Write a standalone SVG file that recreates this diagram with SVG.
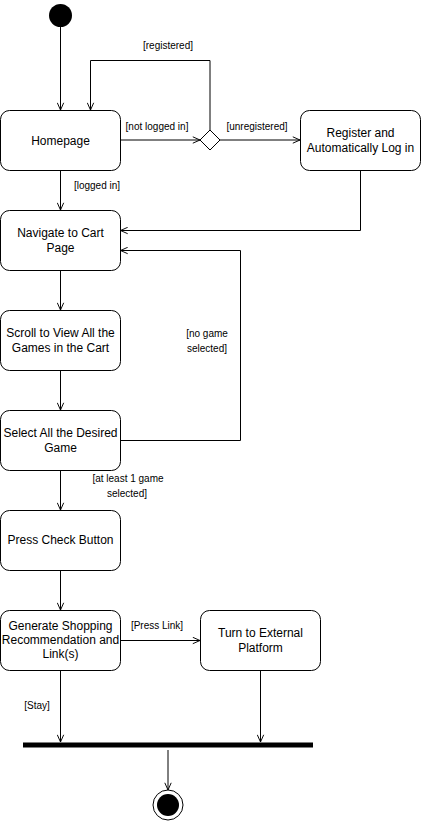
<svg xmlns="http://www.w3.org/2000/svg" width="422" height="821" viewBox="0 0 422 821">
<style>
.node{fill:#fff;stroke:#000;stroke-width:1}
.t{font-family:"Liberation Sans",Arial,sans-serif;font-size:12px;fill:#000;text-anchor:middle}
.l{font-family:"Liberation Sans",Arial,sans-serif;font-size:10px;fill:#000;text-anchor:middle}
.e{fill:none;stroke:#000;stroke-width:1}
</style>
<defs>
<marker id="arr" viewBox="0 0 10 10" refX="10" refY="5" markerWidth="8" markerHeight="8" markerUnits="userSpaceOnUse" orient="auto">
<path d="M1,1 L10,5 L1,9" fill="none" stroke="#000" stroke-width="1.2"/>
</marker>
</defs>
<rect width="422" height="821" fill="#fff"/>
<g id="connectors">
<path class="e" d="M60.5,27 V110" marker-end="url(#arr)"/>
<path class="e" d="M120.5,140 H200" marker-end="url(#arr)"/>
<path class="e" d="M210,130 V60.5 H90.5 V110" marker-end="url(#arr)"/>
<path class="e" d="M220,140 H300" marker-end="url(#arr)"/>
<path class="e" d="M60.5,170 V210" marker-end="url(#arr)"/>
<path class="e" d="M360.5,170 V230.5 H120.5" marker-end="url(#arr)"/>
<path class="e" d="M60.5,270 V310" marker-end="url(#arr)"/>
<path class="e" d="M60.5,370 V410" marker-end="url(#arr)"/>
<path class="e" d="M120.5,440.5 H240.5 V250.5 H120.5" marker-end="url(#arr)"/>
<path class="e" d="M60.5,470 V510" marker-end="url(#arr)"/>
<path class="e" d="M60.5,570 V610" marker-end="url(#arr)"/>
<path class="e" d="M120.5,640.5 H200" marker-end="url(#arr)"/>
<path class="e" d="M60.5,670 V742" marker-end="url(#arr)"/>
<path class="e" d="M260.5,670 V742" marker-end="url(#arr)"/>
<path class="e" d="M168,750 V790" marker-end="url(#arr)"/>
<text class="l" x="168" y="49">[registered]</text>
<text class="l" x="157" y="130">[not logged in]</text>
<text class="l" x="257" y="130">[unregistered]</text>
<text class="l" x="97" y="189">[logged in]</text>
<text class="l" x="207" y="337">[no game</text>
<text class="l" x="207" y="352">selected]</text>
<text class="l" x="128" y="482">[at least 1 game</text>
<text class="l" x="127" y="497">selected]</text>
<text class="l" x="157" y="629">[Press Link]</text>
<text class="l" x="37" y="709">[Stay]</text>
</g>
<g id="start"><circle cx="60.5" cy="15.5" r="11.5" fill="#000"/></g>
<g id="homepage"><rect class="node" x="0.5" y="110.5" width="120" height="60" rx="9"/><text class="t" x="60.5" y="144.5">Homepage</text></g>
<g id="decision"><path class="node" d="M210,130 L220,140 L210,150 L200,140 Z"/></g>
<g id="register"><rect class="node" x="300.5" y="110.5" width="120" height="60" rx="9"/><text class="t" x="360.5" y="137">Register and</text><text class="t" x="360.5" y="152">Automatically Log in</text></g>
<g id="navigate"><rect class="node" x="0.5" y="210.5" width="120" height="60" rx="9"/><text class="t" x="60.5" y="237">Navigate to Cart</text><text class="t" x="60.5" y="252">Page</text></g>
<g id="scroll"><rect class="node" x="0.5" y="310.5" width="120" height="60" rx="9"/><text class="t" x="60.5" y="337">Scroll to View All the</text><text class="t" x="60.5" y="352">Games in the Cart</text></g>
<g id="select"><rect class="node" x="0.5" y="410.5" width="120" height="60" rx="9"/><text class="t" x="60.5" y="437">Select All the Desired</text><text class="t" x="60.5" y="452">Game</text></g>
<g id="press"><rect class="node" x="0.5" y="510.5" width="120" height="60" rx="9"/><text class="t" x="60.5" y="544">Press Check Button</text></g>
<g id="generate"><rect class="node" x="0.5" y="610.5" width="120" height="60" rx="9"/><text class="t" x="60.5" y="630">Generate Shopping</text><text class="t" x="60.5" y="644">Recommendation and</text><text class="t" x="60.5" y="658">Link(s)</text></g>
<g id="turn"><rect class="node" x="200.5" y="610.5" width="120" height="60" rx="9"/><text class="t" x="260.5" y="637">Turn to External</text><text class="t" x="260.5" y="652">Platform</text></g>
<g id="join"><rect x="23" y="742.5" width="290" height="5" fill="#000"/></g>
<g id="end"><circle cx="168" cy="805" r="15" fill="#fff" stroke="#000" stroke-width="1"/><circle cx="168" cy="805" r="11" fill="#000"/></g>
</svg>
